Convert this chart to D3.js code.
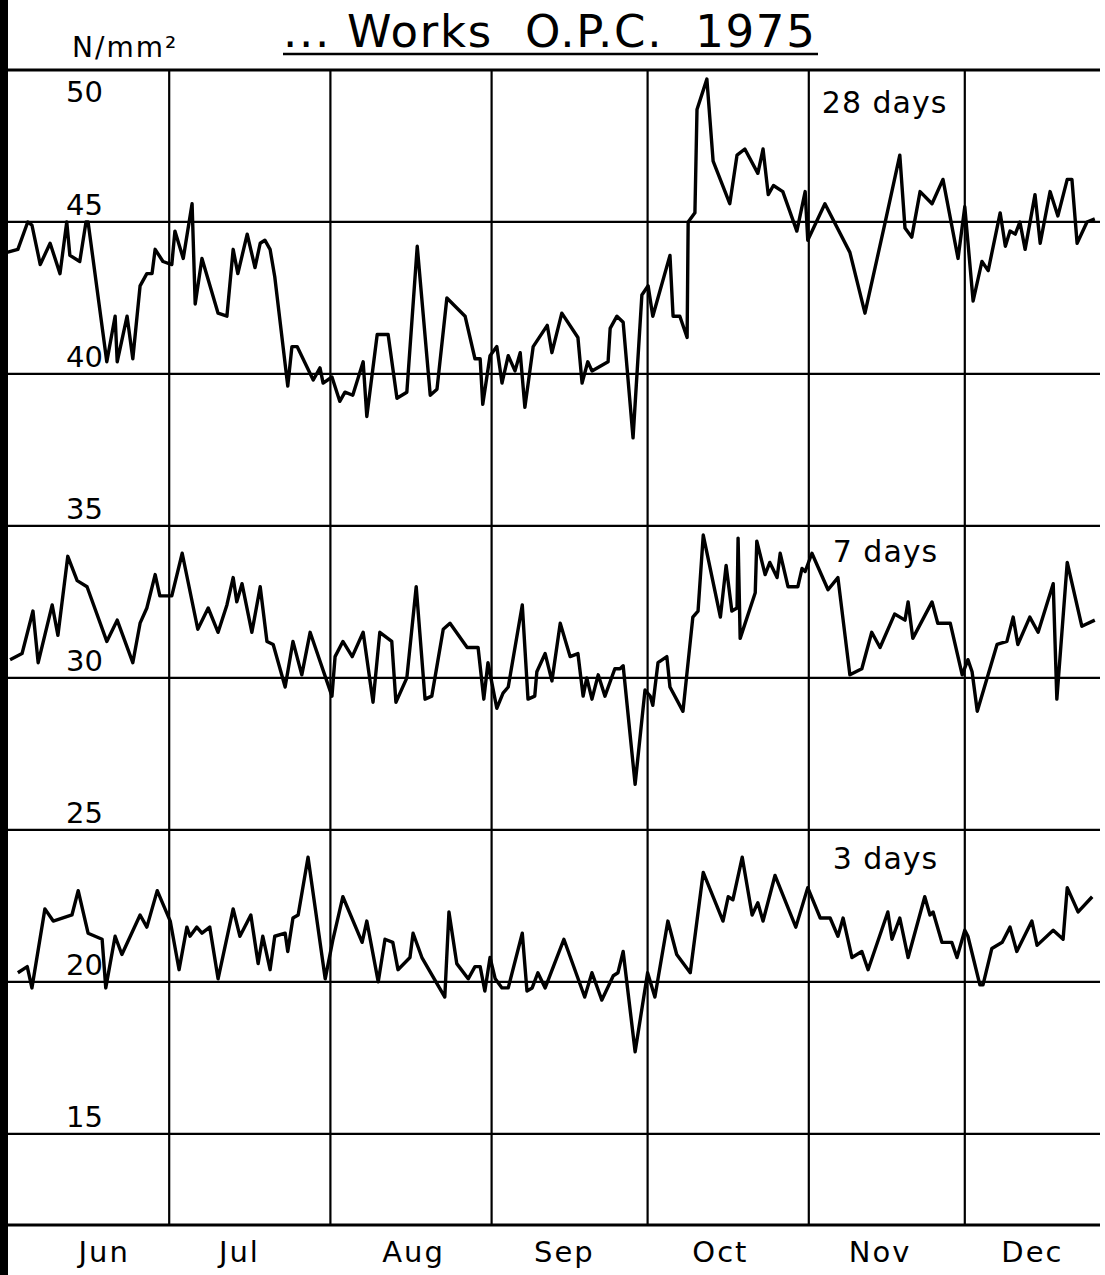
<!DOCTYPE html>
<html>
<head>
<meta charset="utf-8">
<script src="https://cdn.jsdelivr.net/npm/d3@7"></script>
<style>
  body { margin: 0; background: #fff; }
  svg { display: block; }
  text { font-family: "DejaVu Sans", sans-serif; fill: #000; }
</style>
</head>
<body>
<svg id="chart" width="1105" height="1275"></svg>
<script>
// [day counted from 1 June 1975, strength in N/mm²]
const days28 = [
  [-1.2,44.0],[0.9,44.1],[2.8,45.0],[3.6,44.9],[5.2,43.6],[7.1,44.3],[9.0,43.3],[10.3,45.0],[10.9,43.9],
  [12.8,43.7],[14.0,45.0],[14.4,45.0],[18.0,40.4],[19.6,41.9],[20.0,40.4],[21.9,41.9],[23.0,40.5],[24.4,42.9],
  [25.7,43.3],[26.7,43.3],[27.3,44.1],[28.8,43.7],[30.5,43.6],[31.1,44.7],[32.7,43.8],[34.4,45.6],[35.0,42.3],
  [36.3,43.8],[39.4,42.0],[41.1,41.9],[42.3,44.1],[43.2,43.3],[45.0,44.6],[46.5,43.5],[47.5,44.3],[48.4,44.4],
  [49.4,44.1],[50.3,43.2],[52.8,39.6],[53.6,40.9],[54.6,40.9],[57.7,39.8],[59.0,40.2],[59.6,39.7],[61.3,39.9],
  [62.8,39.1],[63.8,39.4],[65.3,39.3],[67.3,40.4],[68.0,38.6],[70.0,41.3],[72.1,41.3],[73.8,39.2],[75.7,39.4],
  [77.7,44.2],[80.2,39.3],[81.5,39.5],[83.4,42.5],[86.9,41.9],[88.8,40.5],[89.8,40.5],[90.3,39.0],[91.7,40.6],
  [93.0,40.9],[94.0,39.7],[95.2,40.6],[96.5,40.1],[97.5,40.7],[98.4,38.9],[100.0,40.9],[102.7,41.6],[103.6,40.7],
  [105.5,42.0],[108.6,41.2],[109.4,39.7],[110.5,40.4],[111.3,40.1],[114.4,40.4],[114.8,41.5],[116.1,41.9],
  [117.3,41.7],[119.2,37.9],[120.9,42.6],[122.1,42.9],[123.0,41.9],[126.3,43.9],[126.9,41.9],[128.2,41.9],
  [129.6,41.2],[129.8,45.0],[131.1,45.3],[131.5,48.7],[133.4,49.7],[134.6,47.0],[137.8,45.6],[139.2,47.2],
  [140.7,47.4],[143.2,46.6],[144.2,47.4],[145.2,45.9],[146.2,46.2],[148.0,46.0],[150.7,44.7],[152.3,46.0],
  [152.8,44.4],[156.1,45.6],[160.9,44.0],[162.5,42.9],[163.8,42.0],[167.7,45.0],[170.5,47.2],[171.5,44.8],
  [172.8,44.5],[174.4,46.0],[176.7,45.6],[178.8,46.4],[181.7,43.8],[183.0,45.5],[184.6,42.4],[186.3,43.7],
  [187.5,43.4],[189.8,45.3],[190.8,44.2],[191.7,44.7],[192.7,44.6],[193.6,45.0],[194.6,44.1],[196.5,45.9],
  [197.5,44.3],[199.4,46.0],[200.9,45.2],[202.7,46.4],[203.6,46.4],[204.6,44.3],[206.5,45.0],[208.0,45.1]
];

const days7 = [
  [-0.6,30.6],[1.7,30.8],[3.8,32.2],[4.8,30.5],[7.5,32.4],[8.6,31.4],[10.5,34.0],[12.3,33.2],[14.2,33.0],
  [18.0,31.2],[20.0,31.9],[23.0,30.5],[24.4,31.8],[25.7,32.3],[27.3,33.4],[28.2,32.7],[30.5,32.7],[32.5,34.1],
  [35.5,31.6],[37.5,32.3],[39.4,31.5],[41.1,32.4],[42.3,33.3],[43.0,32.5],[44.0,33.1],[45.9,31.5],[47.5,33.0],
  [48.8,31.2],[50.0,31.1],[52.3,29.7],[53.8,31.2],[55.5,30.1],[57.1,31.5],[61.3,29.4],[61.9,30.7],[63.4,31.2],
  [65.2,30.7],[67.3,31.5],[69.2,29.2],[70.5,31.5],[72.8,31.2],[73.6,29.2],[75.7,30.0],[77.5,33.0],[79.2,29.3],
  [80.5,29.4],[81.7,30.6],[82.7,31.6],[84.0,31.8],[87.3,31.0],[89.4,31.0],[90.5,29.3],[91.3,30.5],[93.0,29.0],
  [94.2,29.5],[95.2,29.7],[97.9,32.4],[99.0,29.3],[100.3,29.4],[100.7,30.2],[102.3,30.8],[103.6,29.9],
  [105.2,31.8],[107.1,30.7],[108.6,30.8],[109.6,29.4],[110.3,30.0],[111.3,29.3],[112.5,30.1],[113.8,29.4],
  [115.7,30.3],[116.7,30.3],[117.3,30.4],[119.6,26.5],[121.5,29.6],[122.5,29.4],[123.0,29.1],[124.0,30.5],
  [125.7,30.7],[126.3,29.7],[128.8,28.9],[130.7,32.0],[131.7,32.2],[132.7,34.7],[136.0,32.0],[137.1,33.7],
  [138.2,32.2],[139.2,32.3],[139.4,34.6],[139.8,31.3],[142.7,32.8],[143.0,34.5],[144.6,33.4],[145.5,33.8],
  [146.9,33.3],[147.5,34.1],[149.0,33.0],[150.9,33.0],[151.7,33.6],[152.3,33.5],[153.6,34.1],[156.7,32.9],
  [158.6,33.3],[160.9,30.1],[163.2,30.3],[165.1,31.5],[166.7,31.0],[169.5,32.1],[171.5,31.9],[172.1,32.5],
  [173.0,31.3],[176.7,32.5],[177.8,31.8],[180.2,31.8],[182.5,30.1],[183.6,30.6],[184.4,30.2],[185.4,28.9],
  [189.2,31.1],[191.1,31.2],[192.3,32.0],[193.2,31.1],[195.5,32.0],[197.1,31.5],[200.0,33.1],[200.7,29.3],
  [202.7,33.8],[205.5,31.7],[208.0,31.9]
];

const days3 = [
  [0.9,20.3],[2.7,20.5],[3.6,19.8],[6.1,22.4],[7.7,22.0],[11.3,22.2],[12.5,23.0],[14.4,21.6],[17.1,21.4],
  [17.8,19.8],[19.6,21.5],[20.9,20.9],[24.4,22.2],[25.7,21.8],[27.7,23.0],[30.2,22.0],[31.9,20.4],[33.4,21.8],
  [34.0,21.5],[35.3,21.8],[36.3,21.6],[37.8,21.8],[39.4,20.1],[42.3,22.4],[43.6,21.5],[45.7,22.2],[47.1,20.6],
  [48.0,21.5],[49.4,20.4],[50.3,21.5],[52.3,21.6],[52.8,21.0],[53.8,22.1],[54.8,22.2],[56.7,24.1],[60.0,20.1],
  [61.5,21.4],[63.4,22.8],[67.1,21.3],[68.0,22.0],[70.2,20.0],[71.5,21.4],[73.0,21.3],[74.0,20.4],[76.3,20.8],
  [76.9,21.6],[78.6,20.8],[83.0,19.5],[83.8,22.3],[85.3,20.6],[87.5,20.1],[88.8,20.5],[89.8,20.5],[90.7,19.7],
  [91.7,20.8],[92.7,20.1],[94.0,19.8],[95.2,19.8],[97.9,21.6],[98.8,19.7],[99.8,19.8],[100.9,20.3],[102.3,19.8],
  [105.9,21.4],[109.9,19.5],[111.3,20.3],[113.2,19.4],[115.4,20.2],[116.3,20.3],[117.3,21.0],[119.6,17.7],
  [122.0,20.3],[123.4,19.5],[125.9,22.0],[127.6,20.9],[130.2,20.3],[132.7,23.6],[136.5,22.0],[137.5,22.8],
  [138.4,22.7],[140.2,24.1],[142.1,22.2],[143.2,22.6],[144.2,22.0],[146.5,23.5],[150.5,21.8],[152.8,23.1],
  [155.2,22.1],[157.1,22.1],[158.6,21.5],[159.6,22.1],[161.3,20.8],[163.2,21.0],[164.4,20.4],[168.2,22.3],
  [169.0,21.4],[170.5,22.1],[172.1,20.8],[175.3,22.8],[176.3,22.2],[176.9,22.3],[178.6,21.3],[180.5,21.3],
  [181.5,20.8],[183.0,21.7],[183.6,21.5],[185.9,19.9],[186.5,19.9],[188.2,21.1],[190.2,21.3],[191.7,21.8],
  [193.0,21.0],[195.9,22.0],[196.9,21.2],[200.0,21.7],[201.9,21.4],[202.7,23.1],[204.8,22.3],[207.5,22.8]
];

const yTicks = [50, 45, 40, 35, 30, 25, 20, 15];
const monthNames = ["Jun", "Jul", "Aug", "Sep", "Oct", "Nov", "Dec"];
const monthLabelDays = [17.5, 43.5, 77, 106, 136, 166.7, 196];
const seriesLabels = ["28 days", "7 days", "3 days"];
const seriesLabelAt = [[155.5, 48.6], [157.6, 33.8], [157.6, 23.7]];

const width = 1105, height = 1275;
const svg = d3.select("#chart");

const x = d3.scaleLinear().domain([-1, 209]).range([8, 1100]);
const y = d3.scaleLinear().domain([12, 50]).range([1225, 70]);

// month boundaries as day offsets from 1 June
const jun1 = new Date(1975, 5, 1);
const monthStarts = d3.timeMonths(new Date(1975, 6, 1), new Date(1976, 0, 1))
  .map(m => d3.timeDay.count(jun1, m));

// left black margin bar
svg.append("rect")
  .attr("x", 0).attr("y", 0)
  .attr("width", 8).attr("height", height)
  .attr("fill", "#000");

// grid
const grid = svg.append("g").attr("stroke", "#000").attr("stroke-width", 2.2);
grid.selectAll("line.h")
  .data(yTicks.concat([12]))
  .join("line")
  .attr("class", "h")
  .attr("x1", 8).attr("x2", x(209))
  .attr("y1", d => y(d)).attr("y2", d => y(d))
  .attr("stroke-width", d => (d === 12 || d === 50) ? 3 : 2.2);

grid.selectAll("line.v")
  .data(monthStarts)
  .join("line")
  .attr("class", "v")
  .attr("x1", d => x(d)).attr("x2", d => x(d))
  .attr("y1", y(50)).attr("y2", y(12));

// y tick labels
svg.append("g")
  .selectAll("text")
  .data(yTicks)
  .join("text")
  .attr("x", 66)
  .attr("y", d => d === 50 ? y(d) + 32 : y(d) - 7)
  .attr("font-size", 29)
  .text(d => d);

// month labels
svg.append("g")
  .selectAll("text")
  .data(monthNames)
  .join("text")
  .attr("x", (d, i) => x(monthLabelDays[i]))
  .attr("y", 1262)
  .attr("text-anchor", "middle")
  .attr("font-size", 29)
  .attr("letter-spacing", 2)
  .text(d => d);

// unit + title
svg.append("text")
  .attr("x", 72).attr("y", 57)
  .attr("font-size", 28)
  .attr("letter-spacing", 2)
  .text("N/mm²");

svg.append("text")
  .attr("x", 283).attr("y", 47)
  .attr("font-size", 45)
  .attr("letter-spacing", 1.7)
  .style("white-space", "pre")
  .text("... Works  O.P.C.  1975");

svg.append("line")
  .attr("x1", 283).attr("x2", 818)
  .attr("y1", 54).attr("y2", 54)
  .attr("stroke", "#000").attr("stroke-width", 2.5);

// series
const line = d3.line()
  .x(d => x(d[0]))
  .y(d => y(d[1]));

svg.append("g")
  .selectAll("path")
  .data([days28, days7, days3])
  .join("path")
  .attr("d", line)
  .attr("fill", "none")
  .attr("stroke", "#000")
  .attr("stroke-width", 3.4)
  .attr("stroke-linejoin", "round");

svg.append("g")
  .selectAll("text")
  .data(seriesLabels)
  .join("text")
  .attr("x", (d, i) => x(seriesLabelAt[i][0]))
  .attr("y", (d, i) => y(seriesLabelAt[i][1]))
  .attr("font-size", 30)
  .attr("letter-spacing", 1)
  .style("white-space", "pre")
  .text(d => d);
</script>
</body>
</html>
